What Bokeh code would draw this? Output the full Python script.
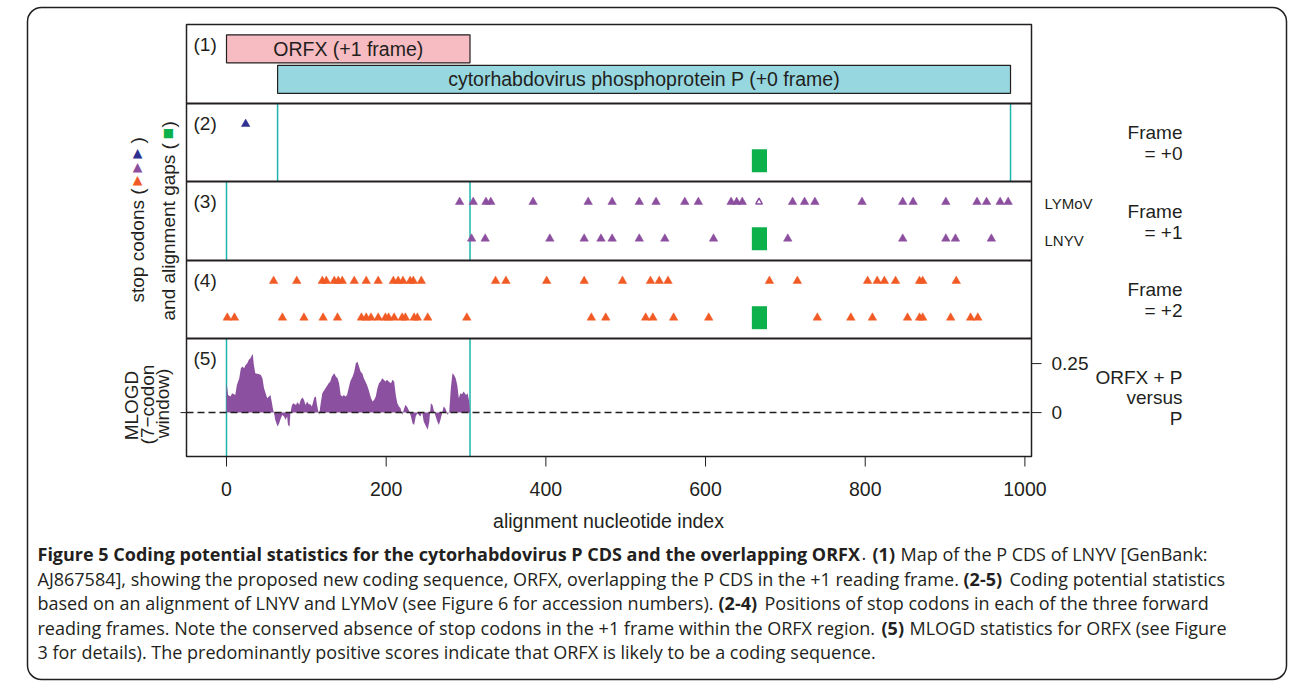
import math
from bokeh.plotting import figure
from bokeh.models import Range1d, Label, BoxAnnotation
from bokeh.core.properties import value
from bokeh.embed import file_html
from bokeh.resources import INLINE

# ---------------- data ----------------
orfx_span = [0, 305]
p_span = [64, 982]
gene_labels = ["ORFX (+1 frame)", "cytorhabdovirus phosphoprotein P (+0 frame)"]

# stop codon positions (alignment nt index); upper row = LYMoV, lower row = LNYV
frame0_lymov = [24]
frame0_lnyv = []
frame1_lymov = [292, 309, 325, 331, 384, 453, 483, 517, 538, 574, 591, 632, 639,
                646, 709, 724, 737, 796, 847, 860, 901, 940, 952, 969, 979]
frame1_lymov_in_gap = [667]
frame1_lnyv = [307, 324, 405, 448, 469, 483, 517, 549, 610, 703, 847, 901, 913, 958]
frame2_lymov = [59, 88, 120, 125, 135, 140, 145, 160, 175, 190, 209, 215, 221, 230,
                234, 244, 337, 350, 401, 448, 496, 531, 542, 553, 680, 715, 803,
                815, 824, 838, 868, 872, 914]
frame2_lnyv = [1, 10, 70, 97, 121, 139, 169, 175, 181, 190, 199, 203, 210, 220, 224,
               235, 239, 252, 301, 457, 475, 525, 534, 560, 604, 740, 782, 809, 853,
               868, 872, 907, 932, 941]
gap_span = [658, 677]

# MLOGD (7-codon window) score along ORFX
mlogd_pos = [0, 1, 2, 5, 7, 11, 13, 16, 18, 20, 22, 24, 26, 28, 30, 32, 33, 34, 36,
             41, 43, 45, 47, 49, 51, 55, 57, 58, 59, 60, 61, 64, 66, 68, 70, 72, 74,
             76, 77, 79, 80, 82, 84, 87, 89, 91, 93, 95, 97, 99, 101, 103, 105, 107,
             110, 112, 113, 115, 116, 118, 120, 124, 128, 130, 132, 135, 137, 139,
             141, 143, 145, 147, 149, 151, 153, 155, 158, 160, 162, 164, 166, 168,
             170, 172, 174, 176, 178, 181, 183, 185, 187, 189, 191, 193, 195, 197,
             199, 201, 203, 206, 208, 210, 212, 214, 216, 218, 220, 222, 224, 226,
             229, 231, 233, 235, 237, 239, 241, 243, 245, 247, 249, 252, 254, 256,
             258, 260, 262, 264, 266, 268, 270, 272, 274, 277, 279, 281, 283, 285,
             287, 289, 291, 293, 295, 297, 300, 302, 304, 305]
mlogd_val = [0.150, 0.124, 0.090, 0.082, 0.099, 0.090, 0.141, 0.175, 0.226, 0.235,
             0.226, 0.243, 0.252, 0.269, 0.277, 0.294, 0.298, 0.252, 0.201, 0.196,
             0.192, 0.175, 0.124, 0.099, 0.073, 0.090, 0.048, 0.022, 0.005, -0.012,
             -0.037, -0.071, -0.054, -0.029, -0.012, -0.020, -0.037, -0.020, -0.063,
             -0.071, -0.003, 0.039, 0.048, 0.039, 0.054, 0.039, 0.065, 0.077, 0.065,
             0.039, 0.056, 0.043, 0.043, 0.031, 0.077, 0.082, 0.048, 0.005, -0.012,
             0.048, 0.099, 0.124, 0.150, 0.158, 0.184, 0.201, 0.184, 0.175, 0.150,
             0.090, 0.082, 0.090, 0.082, 0.090, 0.124, 0.158, 0.184, 0.209, 0.252,
             0.260, 0.235, 0.209, 0.201, 0.175, 0.158, 0.141, 0.116, 0.073, 0.056,
             0.065, 0.082, 0.124, 0.150, 0.158, 0.175, 0.167, 0.158, 0.167, 0.158,
             0.150, 0.167, 0.158, 0.090, 0.048, 0.031, 0.022, -0.012, 0.014, 0.039,
             0.031, 0.005, -0.020, -0.054, -0.063, -0.020, -0.003, -0.012, -0.020,
             0.005, -0.046, -0.063, -0.088, -0.046, 0.048, 0.039, 0.005, -0.020,
             -0.046, -0.063, -0.037, -0.003, 0.031, 0.022, -0.012, 0.005, 0.124,
             0.201, 0.192, 0.175, 0.141, 0.073, 0.099, 0.094, 0.107, 0.090, 0.099,
             0.056, 0.0]

x_ticks = [0, 200, 400, 600, 800, 1000]
mlogd_ticks = [0, 0.25]

caption_lines = [
    [("Figure 5 Coding potential statistics for the cytorhabdovirus P CDS and the overlapping ORFX", True, 37),
     (".", False, 861), ("(1)", True, 872), ("Map of the P CDS of LNYV [GenBank:", False, 900)],
    [("AJ867584], showing the proposed new coding sequence, ORFX, overlapping the P CDS in the +1 reading frame.", False, 37),
     ("(2-5)", True, 963), ("Coding potential statistics", False, 1009)],
    [("based on an alignment of LNYV and LYMoV (see Figure 6 for accession numbers).", False, 37),
     ("(2-4)", True, 718), ("Positions of stop codons in each of the three forward", False, 764)],
    [("reading frames. Note the conserved absence of stop codons in the +1 frame within the ORFX region.", False, 37),
     ("(5)", True, 881), ("MLOGD statistics for ORFX (see Figure", False, 909)],
    [("3 for details). The predominantly positive scores indicate that ORFX is likely to be a coding sequence.", False, 37)],
]
caption_y = [553, 578, 602, 627, 651]

# ---------------- style / layout ----------------
TXT = "#231F20"
PINK = "#F7BBC2"
LBLUE = "#97D7E0"
BLUE = "#2E3192"
PURPLE = "#8C4F9F"
ORANGE = "#F15A24"
GREEN = "#0DB14B"
CYAN = "#1DB5AC"
MLOGD_COL = "#8B509F"
FONT = "Liberation Sans"

W, H = 1293, 681
FL, FR, FT, FB = 186, 1031, 24, 456          # plot box in canvas px
X0, PXU = 226.0, 0.7984                      # canvas px of x=0, px per nt
bounds = [FT, 103, 181, 260, 338, FB]        # panel borders (canvas px)

p = figure(width=W, height=H,
           x_range=Range1d(-X0 / PXU, (W - X0) / PXU),
           y_range=Range1d(H, 0),
           output_backend="svg", toolbar_location=None,
           x_axis_location=None, y_axis_location=None,
           min_border=0, min_border_left=0, min_border_right=0,
           min_border_top=0, min_border_bottom=0,
           outline_line_color=None, background_fill_color="white",
           border_fill_color="white")
p.xgrid.visible = False
p.ygrid.visible = False


def rng(top_px, bot_px, d_top, d_bot):
    k = (d_bot - d_top) / (bot_px - top_px)
    return Range1d(d_top + (H - top_px) * k, d_top + (0 - top_px) * k)


ROW_PX = 36.7
ROW1_OFF = 20.5


def stop_rng(i):
    t, b = bounds[i], bounds[i + 1]
    return rng(t, b, 1 + ROW1_OFF / ROW_PX, 1 - (b - t - ROW1_OFF) / ROW_PX)


p.extra_x_ranges = {"px": Range1d(0, W)}
p.extra_y_ranges = {
    "p1": rng(bounds[0], bounds[1], 1.797, -0.793),
    "p2": stop_rng(1),
    "p3": stop_rng(2),
    "p4": stop_rng(3),
    "p5": rng(bounds[4], bounds[5], 0.378, -0.224),
}

# outer rounded frame
p.add_layout(BoxAnnotation(left=27, right=1286, top=7, bottom=679, x_range_name="px",
                           fill_color="white", fill_alpha=1.0, line_color=TXT,
                           line_alpha=1.0, line_width=1.5, border_radius=14,
                           level="underlay"))

# panel (1): gene map
gene_rows = [1, 0]
hh = 0.459
p.quad(left=[orfx_span[0], p_span[0]], right=[orfx_span[1], p_span[1]],
       bottom=[r - hh for r in gene_rows], top=[r + hh for r in gene_rows],
       fill_color=[PINK, LBLUE], line_color=TXT, line_width=1.2, y_range_name="p1")
for span, row, txt in zip([orfx_span, p_span], gene_rows, gene_labels):
    p.add_layout(Label(x=(span[0] + span[1]) / 2, y=row, y_range_name="p1", text=txt,
                       text_align="center", text_baseline="middle", text_font=FONT,
                       text_font_size="19.5px", text_color=TXT))

# cyan CDS boundaries
p.segment(x0=p_span, x1=p_span, y0=bounds[1], y1=bounds[2], line_color=CYAN, line_width=1.5)
for i in (2, 4):
    p.segment(x0=orfx_span, x1=orfx_span, y0=bounds[i], y1=bounds[i + 1],
              line_color=CYAN, line_width=1.5)

# stop codons and alignment gaps
stops = [("p2", frame0_lymov, frame0_lnyv, BLUE),
         ("p3", frame1_lymov, frame1_lnyv, PURPLE),
         ("p4", frame2_lymov, frame2_lnyv, ORANGE)]
for name, up, low, col in stops:
    p.quad(left=[gap_span[0]], right=[gap_span[1]], bottom=[-0.313], top=[0.313],
           fill_color=GREEN, line_color=None, y_range_name=name)
    for row, xs in ((1, up), (0, low)):
        if xs:
            p.scatter(x=xs, y=[row] * len(xs), marker="triangle", size=8.5,
                      fill_color=col, line_color=col, line_width=0.5,
                      y_range_name=name)
p.scatter(x=frame1_lymov_in_gap, y=[1] * len(frame1_lymov_in_gap), marker="triangle",
          size=6.5, fill_color="white", line_color=PURPLE, line_width=1.5,
          y_range_name="p3")

# panel (5): MLOGD
p.varea(x=mlogd_pos, y1=[0] * len(mlogd_pos), y2=mlogd_val, fill_color=MLOGD_COL,
        y_range_name="p5")
p.segment(x0=[FL], x1=[FR], y0=[0], y1=[0], x_range_name="px", y_range_name="p5",
          line_color=TXT, line_width=1.5, line_dash="7 4")

# plot box and panel borders
p.quad(left=[FL], right=[FR], top=[FT], bottom=[FB], x_range_name="px",
       fill_color=None, line_color=TXT, line_width=1.5)
p.segment(x0=[FL] * 4, x1=[FR] * 4, y0=bounds[1:-1], y1=bounds[1:-1],
          x_range_name="px", line_color=TXT, line_width=2)

# x axis (bottom)
p.segment(x0=x_ticks, x1=x_ticks, y0=[FB] * len(x_ticks), y1=[FB + 10] * len(x_ticks),
          line_color=TXT, line_width=1)
p.text(x=x_ticks, y=[FB + 32] * len(x_ticks), text=[str(t) for t in x_ticks],
       text_align="center", text_baseline="middle", text_font=value(FONT),
       text_font_size="19.5px", text_color=TXT)

# MLOGD axis (right) and left tick
n = len(mlogd_ticks)
p.segment(x0=[FR] * n, x1=[FR + 10] * n, y0=mlogd_ticks, y1=mlogd_ticks,
          x_range_name="px", y_range_name="p5", line_color=TXT, line_width=1)
p.text(x=[FR + 20] * n, y=mlogd_ticks, text=["%g" % t for t in mlogd_ticks],
       x_range_name="px", y_range_name="p5", text_align="left",
       text_baseline="middle", text_font=value(FONT), text_font_size="19px",
       text_color=TXT)
p.segment(x0=[FL - 6], x1=[FL], y0=[0], y1=[0], x_range_name="px", y_range_name="p5",
          line_color=TXT, line_width=1)


def lab(X, Y, text, size="19px", align="left", baseline="middle", angle=0,
        color=TXT, font=FONT, style="normal"):
    p.add_layout(Label(x=X, y=Y, x_range_name="px", text=text, text_align=align,
                       text_baseline=baseline, angle=angle, text_color=color,
                       text_font=font, text_font_size=size, text_font_style=style))


# panel numbers
for i, num in enumerate(["(1)", "(2)", "(3)", "(4)", "(5)"]):
    lab(193, bounds[i] + 20, num, size="19px")

# right-hand labels
for y1, y2, t in [(132, 153, "= +0"), (211, 232, "= +1"), (289, 310, "= +2")]:
    lab(1182, y1, "Frame", align="right")
    lab(1182, y2, t, align="right")
lab(1044, 203, "LYMoV", size="15px")
lab(1044, 240, "LNYV", size="15px")
lab(1182, 377, "ORFX + P", align="right")
lab(1182, 397, "versus", align="right")
lab(1182, 418, "P", align="right")

# x axis title
lab(608, 520, "alignment nucleotide index", size="19.5px", align="center")

# left rotated labels
A = math.pi / 2
lab(137, 302, "stop codons (", angle=A, size="19px")
lab(137, 178.5, "\u25B2", size="12.5px", align="center", color=ORANGE, font="DejaVu Sans")
lab(137, 165.5, "\u25B2", size="12.5px", align="center", color=PURPLE, font="DejaVu Sans")
lab(137, 152, "\u25B2", size="12.5px", align="center", color=BLUE, font="DejaVu Sans")
lab(137, 143, ")", angle=A, size="19px")
lab(168, 320, "and alignment gaps (", angle=A)
lab(168, 132.5, "\u25A0", size="12px", align="center", color=GREEN, font="DejaVu Sans")
lab(168, 127, ")", angle=A)
lab(131, 405, "MLOGD", angle=A, align="center")
lab(147, 404, "(7\u2212codon", angle=A, align="center")
lab(162, 403, "window)", angle=A, align="center")

# caption
for yy, segs in zip(caption_y, caption_lines):
    for txt, bold, xx in segs:
        lab(xx, yy, txt, size="18px", font="Open Sans",
            style="bold" if bold else "normal")

open("out.html", "w").write(file_html(p, INLINE))
